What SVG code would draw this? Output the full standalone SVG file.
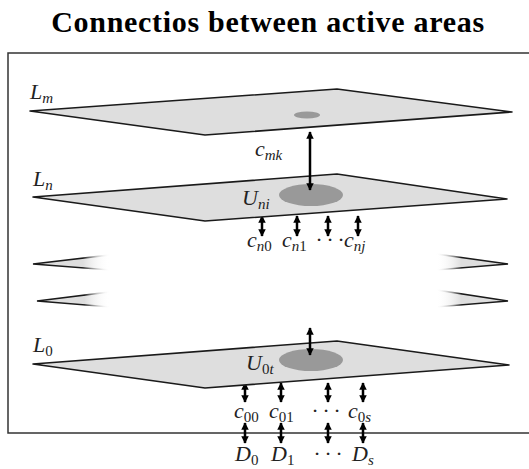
<svg xmlns="http://www.w3.org/2000/svg" width="529" height="469" viewBox="0 0 529 469">
<defs>
<style>
.title{font-family:"Liberation Serif",serif;font-weight:bold;font-size:30px;letter-spacing:0.7px;fill:#000}
.m{font-family:"Liberation Serif",serif;font-style:italic;font-size:22px;fill:#222}
.s{font-size:15px}
.r{font-style:normal}
.layer{fill:#dedede;stroke:#1a1a1a;stroke-width:1.6;stroke-linejoin:round}
.area{fill:#999}
.arr{stroke:#000;stroke-width:2.5;fill:none;marker-start:url(#ah);marker-end:url(#ah)}
</style>
<marker id="ah" viewBox="0 0 10 10" refX="9" refY="5" markerWidth="3" markerHeight="3" orient="auto-start-reverse" markerUnits="strokeWidth">
<path d="M0,0 L10,5 L0,10 Z" fill="#000"/>
</marker>
<linearGradient id="fadeL" x1="0" y1="0" x2="1" y2="0">
<stop offset="0" stop-color="#dedede"/><stop offset="0.65" stop-color="#dedede"/><stop offset="1" stop-color="#fff" stop-opacity="0"/>
</linearGradient>
<linearGradient id="fadeLs" x1="0" y1="0" x2="1" y2="0">
<stop offset="0" stop-color="#1a1a1a"/><stop offset="0.65" stop-color="#1a1a1a"/><stop offset="1" stop-color="#fff" stop-opacity="0"/>
</linearGradient>
<linearGradient id="fadeR" x1="1" y1="0" x2="0" y2="0">
<stop offset="0" stop-color="#dedede"/><stop offset="0.65" stop-color="#dedede"/><stop offset="1" stop-color="#fff" stop-opacity="0"/>
</linearGradient>
<linearGradient id="fadeRs" x1="1" y1="0" x2="0" y2="0">
<stop offset="0" stop-color="#1a1a1a"/><stop offset="0.65" stop-color="#1a1a1a"/><stop offset="1" stop-color="#fff" stop-opacity="0"/>
</linearGradient>
</defs>
<rect width="529" height="469" fill="#fff"/>
<text class="title" x="268" y="32" text-anchor="middle">Connectios between active areas</text>
<rect x="8" y="53" width="522" height="380" fill="none" stroke="#333" stroke-width="1.5"/>

<g id="connectors">
<line class="arr" x1="262" y1="216" x2="262" y2="236"/>
<line class="arr" x1="297" y1="216" x2="297" y2="236"/>
<line class="arr" x1="328" y1="216" x2="328" y2="236"/>
<line class="arr" x1="358" y1="216" x2="358" y2="236"/>
<line class="arr" x1="245" y1="383" x2="245" y2="402"/>
<line class="arr" x1="281" y1="383" x2="281" y2="402"/>
<line class="arr" x1="328" y1="383" x2="328" y2="402"/>
<line class="arr" x1="363" y1="383" x2="363" y2="402"/>
<line class="arr" x1="245" y1="423" x2="245" y2="443"/>
<line class="arr" x1="281" y1="423" x2="281" y2="443"/>
<line class="arr" x1="328" y1="423" x2="328" y2="443"/>
<line class="arr" x1="363" y1="423" x2="363" y2="443"/>
</g>

<g id="layer-Lm">
<polygon class="layer" points="30,111 337,89 512,112 205,135"/>
<ellipse class="area" cx="307" cy="115" rx="13" ry="3.5"/>
<text class="m" x="30" y="99">L<tspan class="s" dy="4">m</tspan></text>
</g>

<g id="layer-Ln">
<polygon class="layer" points="33,197 337,174 507,199 205,221"/>
<ellipse class="area" cx="311" cy="195" rx="32" ry="11"/>
<text class="m" x="33" y="186">L<tspan class="s" dy="4">n</tspan></text>
<text class="m" x="242" y="205">U<tspan class="s" dy="4">ni</tspan></text>
</g>

<g id="faded-layers">
<polygon points="33,264 110,255 110,270" fill="url(#fadeL)" stroke="url(#fadeLs)" stroke-width="1.6"/>
<polygon points="37,301 110,292 110,307" fill="url(#fadeL)" stroke="url(#fadeLs)" stroke-width="1.6"/>
<polygon points="508,264 436,254 436,270" fill="url(#fadeR)" stroke="url(#fadeRs)" stroke-width="1.6"/>
<polygon points="508,301 436,290 436,307" fill="url(#fadeR)" stroke="url(#fadeRs)" stroke-width="1.6"/>
</g>

<g id="layer-L0">
<polygon class="layer" points="33,364 337,341 509,365 205,388"/>
<ellipse class="area" cx="311" cy="360" rx="32" ry="11"/>
<text class="m" x="33" y="352">L<tspan class="s r" dy="4">0</tspan></text>
<text class="m" x="246" y="370">U<tspan class="s" dy="4"><tspan class="r">0</tspan>t</tspan></text>
</g>

<g id="connectors-main">
<line class="arr" x1="310" y1="132" x2="310" y2="190"/>
<line class="arr" x1="310" y1="328" x2="310" y2="355"/>
</g>

<g id="labels">
<text class="m" x="255" y="156">c<tspan class="s" dy="4">mk</tspan></text>
<text class="m" x="247" y="247">c<tspan class="s" dy="4">n<tspan class="r">0</tspan></tspan></text>
<text class="m" x="282" y="247">c<tspan class="s" dy="4">n<tspan class="r">1</tspan></tspan></text>
<text class="m" x="316" y="247">· · ·</text>
<text class="m" x="344" y="247">c<tspan class="s" dy="4">nj</tspan></text>
<text class="m" x="234" y="418">c<tspan class="s r" dy="4">00</tspan></text>
<text class="m" x="269" y="418">c<tspan class="s r" dy="4">01</tspan></text>
<text class="m" x="312" y="418">· · ·</text>
<text class="m" x="348" y="418">c<tspan class="s" dy="4"><tspan class="r">0</tspan>s</tspan></text>
<text class="m" x="235" y="461">D<tspan class="s r" dy="4">0</tspan></text>
<text class="m" x="271" y="461">D<tspan class="s r" dy="4">1</tspan></text>
<text class="m" x="314" y="461">· · ·</text>
<text class="m" x="352" y="461">D<tspan class="s" dy="4">s</tspan></text>
</g>
</svg>
